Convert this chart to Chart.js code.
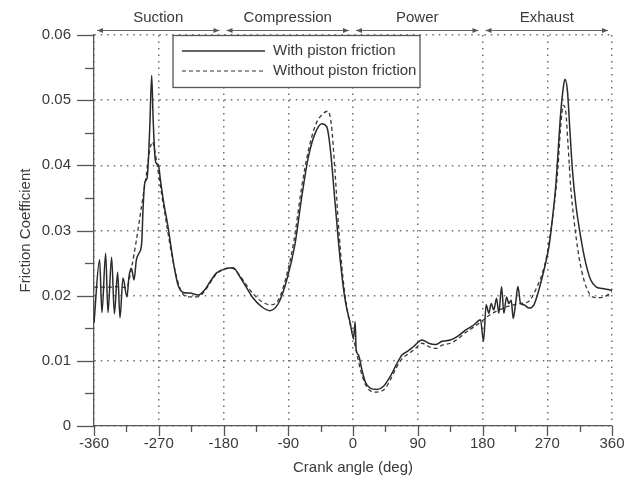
<!DOCTYPE html>
<html>
<head>
<meta charset="utf-8">
<script src="https://cdn.jsdelivr.net/npm/chart.js@4.4.0/dist/chart.umd.min.js"></script>
<style>
html, body { margin: 0; padding: 0; background: #fff; }
</style>
</head>
<body>
<canvas id="frictionChart" width="640" height="493"></canvas>
<script>
// with piston friction (solid)
const solidAngle = [-360, -352.2, -349, -343.8, -340.6, -335.5, -331.7, -327.1, -323.9, -319.7, -314.2, -311.4, -308, -304.4, -301.1, -297.5, -293.7, -291.9, -289.5, -286.3, -284.4, -282.5, -279.8, -277.9, -275.2, -273.2, -270.4, -267.6, -263, -257, -252.3, -247.7, -243.1, -236.1, -226.8, -215.3, -205.9, -198.9, -189.6, -175.7, -166.5, -157.2, -147.8, -138.6, -126.9, -115.4, -103.8, -92.1, -80.5, -71.2, -62, -52.7, -43.3, -36.4, -31.8, -24.8, -17.8, -10.9, -3.9, 0.7, 3, 4.4, 7.6, 12.4, 17, 24, 33.3, 42.5, 51.8, 61.1, 68, 75, 84.3, 96, 105.2, 114.5, 123.8, 135.4, 144.7, 156.3, 167.9, 177.2, 181.4, 185.1, 188.8, 192.1, 195.7, 199.5, 202.7, 206.5, 209.7, 213.4, 216.6, 219.9, 222.7, 226, 229.2, 232.9, 237.5, 244.5, 251.5, 258.4, 265.4, 272.3, 277, 281.7, 284.9, 288.6, 292.4, 294.6, 298, 301.2, 305, 309.6, 316.5, 323.5, 330.5, 337.4, 346.7, 356, 360];
const solidFriction = [0.0158, 0.0255, 0.0174, 0.0265, 0.0174, 0.0259, 0.0172, 0.0236, 0.0166, 0.0227, 0.0198, 0.0229, 0.0242, 0.0224, 0.0255, 0.0265, 0.0281, 0.0331, 0.0373, 0.038, 0.0408, 0.0458, 0.0538, 0.0474, 0.0412, 0.0403, 0.04, 0.0377, 0.0342, 0.0305, 0.027, 0.0239, 0.0216, 0.0205, 0.0204, 0.0201, 0.0209, 0.0221, 0.0235, 0.0242, 0.0243, 0.0229, 0.0212, 0.0196, 0.0183, 0.0177, 0.0188, 0.0224, 0.028, 0.0352, 0.0413, 0.0449, 0.0464, 0.0459, 0.0428, 0.0341, 0.0255, 0.0193, 0.0158, 0.0135, 0.016, 0.0117, 0.0109, 0.0086, 0.0068, 0.0058, 0.0056, 0.0061, 0.0076, 0.0096, 0.0109, 0.0114, 0.0122, 0.0132, 0.0127, 0.0125, 0.013, 0.0132, 0.0137, 0.0147, 0.0155, 0.0163, 0.013, 0.0186, 0.0173, 0.0188, 0.0178, 0.0196, 0.0173, 0.0214, 0.0173, 0.0198, 0.0188, 0.0193, 0.0165, 0.0188, 0.0214, 0.0188, 0.0186, 0.0181, 0.0186, 0.0209, 0.0239, 0.0275, 0.0316, 0.0367, 0.0418, 0.0479, 0.052, 0.0532, 0.0515, 0.0459, 0.0393, 0.0341, 0.029, 0.025, 0.0224, 0.0214, 0.0211, 0.0209, 0.0208];

// without piston friction (dashed)
const dashedAngle = [-360, -340, -325, -315, -308, -301.1, -294.1, -287.1, -282.5, -278.8, -275.6, -271, -266.2, -259.3, -252.3, -245.3, -238.4, -229.2, -217.5, -208.3, -198.9, -190, -180, -168, -158, -148, -138, -127, -115, -104, -93, -82, -72, -62, -52, -43, -35, -30, -25, -20, -14, -8, -2, 4, 10, 16, 22, 30, 38, 45, 52, 60, 68, 76, 85, 96, 105, 115, 124, 135, 145, 156, 168, 180, 192, 205, 220, 233, 244, 256, 263, 270, 277, 282, 285, 288.6, 292.4, 295.6, 298.8, 302.6, 307.2, 314, 321, 328, 333, 340, 349, 360];
const dashedFriction = [0.0213, 0.0213, 0.0214, 0.0212, 0.0242, 0.0285, 0.0336, 0.0387, 0.0423, 0.0436, 0.0423, 0.0392, 0.0357, 0.0311, 0.0265, 0.0229, 0.0206, 0.0198, 0.0198, 0.0204, 0.0219, 0.0233, 0.024, 0.0242, 0.0232, 0.0216, 0.0202, 0.0191, 0.0186, 0.0193, 0.0228, 0.0285, 0.0362, 0.0423, 0.0462, 0.0478, 0.0483, 0.0462, 0.039, 0.0305, 0.0228, 0.0178, 0.0147, 0.0118, 0.0088, 0.0067, 0.0056, 0.0052, 0.0053, 0.0058, 0.0071, 0.0089, 0.0103, 0.011, 0.0117, 0.0127, 0.0122, 0.0119, 0.0124, 0.0127, 0.0133, 0.0143, 0.0152, 0.0162, 0.0172, 0.0179, 0.0185, 0.0188, 0.0191, 0.0214, 0.0234, 0.0265, 0.0316, 0.0362, 0.0398, 0.0459, 0.0492, 0.0484, 0.0433, 0.0367, 0.0316, 0.026, 0.0224, 0.0204, 0.0198, 0.0197, 0.0198, 0.0206];

const phaseNames = ['Suction', 'Compression', 'Power', 'Exhaust'];
const phaseStart = [-360, -180, 0, 180];
const phaseEnd = [-180, 0, 180, 360];

const seriesLabels = ['With piston friction', 'Without piston friction'];

const textColor = '#3a3a3a';
const axisColor = '#555';
const gridColor = '#6e6e6e';
const fontFamily = "'Liberation Sans', Arial, sans-serif";

function toPoints(xs, ys) {
    return xs.map((x, i) => ({ x: x, y: ys[i] }));
}

// tick marks, phase arrows and the boxed legend
const decorations = {
    id: 'decorations',
    afterDraw(chart) {
        const ctx = chart.ctx;
        const xs = chart.scales.x;
        const ys = chart.scales.y;
        const area = chart.chartArea;
        ctx.save();
        ctx.strokeStyle = axisColor;
        ctx.lineWidth = 1.3;

        for (let v = -360; v <= 360; v += 45) {
            const px = Math.round(xs.getPixelForValue(v)) + 0.5;
            const len = v % 90 === 0 ? 10 : 6;
            ctx.beginPath();
            ctx.moveTo(px, area.bottom);
            ctx.lineTo(px, area.bottom + len);
            ctx.stroke();
        }
        for (let k = 0; k <= 12; k++) {
            const py = Math.round(ys.getPixelForValue(k * 0.005)) + 0.5;
            const len = k % 2 === 0 ? 17 : 9;
            ctx.beginPath();
            ctx.moveTo(area.left, py);
            ctx.lineTo(area.left - len, py);
            ctx.stroke();
        }

        // phases along the top
        ctx.fillStyle = textColor;
        ctx.strokeStyle = '#666';
        ctx.lineWidth = 1;
        ctx.font = '15px ' + fontFamily;
        ctx.textAlign = 'center';
        ctx.textBaseline = 'middle';
        const ay = 30.5;
        phaseNames.forEach((name, i) => {
            const x1 = xs.getPixelForValue(phaseStart[i]) + 3;
            const x2 = xs.getPixelForValue(phaseEnd[i]) - 4;
            ctx.beginPath();
            ctx.moveTo(x1, ay);
            ctx.lineTo(x2, ay);
            ctx.stroke();
            ctx.fillStyle = '#555';
            ctx.beginPath();
            ctx.moveTo(x1, ay); ctx.lineTo(x1 + 6, ay - 2.5); ctx.lineTo(x1 + 6, ay + 2.5); ctx.closePath();
            ctx.fill();
            ctx.beginPath();
            ctx.moveTo(x2, ay); ctx.lineTo(x2 - 6, ay - 2.5); ctx.lineTo(x2 - 6, ay + 2.5); ctx.closePath();
            ctx.fill();
            ctx.fillStyle = textColor;
            ctx.fillText(name, (x1 + x2) / 2, 18);
        });

        // legend box
        const bx = 173, by = 35.5, bw = 247, bh = 52;
        ctx.fillStyle = '#fff';
        ctx.fillRect(bx, by, bw, bh);
        ctx.strokeStyle = '#555';
        ctx.lineWidth = 1.3;
        ctx.strokeRect(bx, by, bw, bh);
        ctx.strokeStyle = '#333';
        ctx.lineWidth = 1.4;
        ctx.beginPath();
        ctx.moveTo(182, 51); ctx.lineTo(265, 51);
        ctx.stroke();
        ctx.setLineDash([4, 3]);
        ctx.lineWidth = 1.2;
        ctx.beginPath();
        ctx.moveTo(182, 71); ctx.lineTo(265, 71);
        ctx.stroke();
        ctx.setLineDash([]);
        ctx.fillStyle = textColor;
        ctx.textAlign = 'left';
        ctx.fillText(seriesLabels[0], 273, 51);
        ctx.fillText(seriesLabels[1], 273, 71);
        ctx.restore();
    }
};

const ctx = document.getElementById('frictionChart').getContext('2d');
new Chart(ctx, {
    type: 'scatter',
    data: {
        datasets: [{
            label: seriesLabels[0],
            data: toPoints(solidAngle, solidFriction),
            showLine: true,
            borderColor: '#2a2a2a',
            borderWidth: 1.5,
            pointRadius: 0,
            cubicInterpolationMode: 'monotone'
        }, {
            label: seriesLabels[1],
            data: toPoints(dashedAngle, dashedFriction),
            showLine: true,
            borderColor: '#383838',
            borderWidth: 1.3,
            borderDash: [4, 3],
            pointRadius: 0,
            cubicInterpolationMode: 'monotone'
        }]
    },
    options: {
        responsive: false,
        animation: false,
        layout: {
            padding: { top: 35, right: 28, bottom: 0, left: 0 }
        },
        plugins: {
            legend: { display: false },
            tooltip: { enabled: false }
        },
        scales: {
            x: {
                type: 'linear',
                min: -360,
                max: 360,
                afterFit: (scale) => { scale.height = 67; },
                ticks: {
                    stepSize: 90,
                    color: textColor,
                    padding: 9,
                    maxRotation: 0,
                    font: { family: fontFamily, size: 15 }
                },
                grid: {
                    color: gridColor,
                    lineWidth: 1.5,
                    drawTicks: false
                },
                border: { color: axisColor, width: 1.3, dash: [1.5, 5] },
                title: {
                    display: true,
                    text: 'Crank angle (deg)',
                    color: textColor,
                    font: { family: fontFamily, size: 15 },
                    padding: { top: 0, bottom: 16 }
                }
            },
            y: {
                min: 0,
                max: 0.06,
                afterFit: (scale) => { scale.width = 94; },
                ticks: {
                    stepSize: 0.01,
                    color: textColor,
                    padding: 23,
                    font: { family: fontFamily, size: 15 },
                    callback: (v) => v === 0 ? '0' : v.toFixed(2)
                },
                grid: {
                    color: gridColor,
                    lineWidth: 1.5,
                    drawTicks: false
                },
                border: { color: axisColor, width: 1.3, dash: [1.5, 5] },
                title: {
                    display: true,
                    text: 'Friction Coefficient',
                    color: textColor,
                    font: { family: fontFamily, size: 15 },
                    padding: { top: 17, bottom: 0 }
                }
            }
        }
    },
    plugins: [decorations]
});
</script>
</body>
</html>
